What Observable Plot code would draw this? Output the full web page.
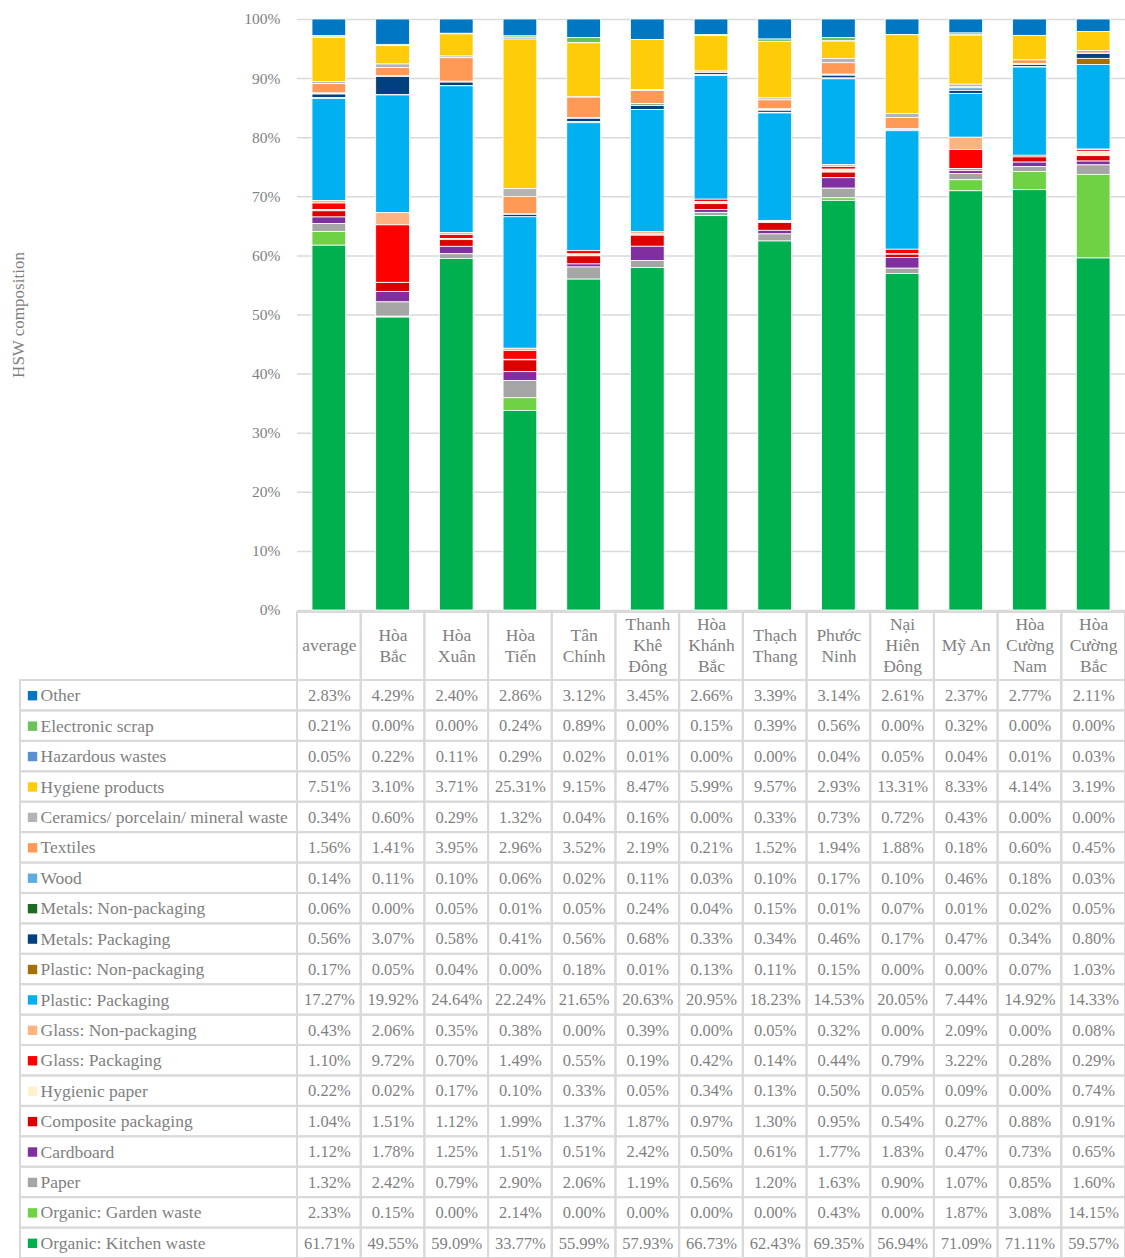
<!DOCTYPE html>
<html><head><meta charset="utf-8">
<script src="https://cdn.jsdelivr.net/npm/d3@7"></script>
<script src="https://cdn.jsdelivr.net/npm/@observablehq/plot@0.6"></script>
<style>
body{margin:0;background:#fff;}
#wrap{width:1125px;}
.row{display:flex;}
svg{overflow:visible;}
</style></head><body>
<div id="wrap"><div id="chart"></div><div id="header"></div><div class="row"><div style="width:20px;flex:none"></div><div id="labels"></div><div id="table"></div></div></div>
<script>
const categories = ["average","Hòa Bắc","Hòa Xuân","Hòa Tiến","Tân Chính","Thanh Khê Đông","Hòa Khánh Bắc","Thạch Thang","Phước Ninh","Nại Hiên Đông","Mỹ An","Hòa Cường Nam","Hòa Cường Bắc"];
const tickLabels = ["average","Hòa\nBắc","Hòa\nXuân","Hòa\nTiến","Tân\nChính","Thanh\nKhê\nĐông","Hòa\nKhánh\nBắc","Thạch\nThang","Phước\nNinh","Nại\nHiên\nĐông","Mỹ An","Hòa\nCường\nNam","Hòa\nCường\nBắc"];

// table order (top row first)
const seriesNames = ["Other","Electronic scrap","Hazardous wastes","Hygiene products","Ceramics/ porcelain/ mineral waste","Textiles","Wood","Metals: Non-packaging","Metals: Packaging","Plastic: Non-packaging","Plastic: Packaging","Glass: Non-packaging","Glass: Packaging","Hygienic paper","Composite packaging","Cardboard","Paper","Organic: Garden waste","Organic: Kitchen waste"];
const seriesColors = ["#0077C2","#6CC15A","#5A8FD6","#FFCC0A","#B4B4B4","#FF9955","#5FADE0","#1F6B26","#00407E","#A66F00","#00B0F0","#FFB380","#FF0000","#FFF1CC","#DC0000","#7F2FA0","#A5A5A5","#6FD144","#00B04F"];

const other          = [2.83,4.29,2.40,2.86,3.12,3.45,2.66,3.39,3.14,2.61,2.37,2.77,2.11];
const electronic     = [0.21,0.00,0.00,0.24,0.89,0.00,0.15,0.39,0.56,0.00,0.32,0.00,0.00];
const hazardous      = [0.05,0.22,0.11,0.29,0.02,0.01,0.00,0.00,0.04,0.05,0.04,0.01,0.03];
const hygieneProd    = [7.51,3.10,3.71,25.31,9.15,8.47,5.99,9.57,2.93,13.31,8.33,4.14,3.19];
const ceramics       = [0.34,0.60,0.29,1.32,0.04,0.16,0.00,0.33,0.73,0.72,0.43,0.00,0.00];
const textiles       = [1.56,1.41,3.95,2.96,3.52,2.19,0.21,1.52,1.94,1.88,0.18,0.60,0.45];
const wood           = [0.14,0.11,0.10,0.06,0.02,0.11,0.03,0.10,0.17,0.10,0.46,0.18,0.03];
const metalsNonPack  = [0.06,0.00,0.05,0.01,0.05,0.24,0.04,0.15,0.01,0.07,0.01,0.02,0.05];
const metalsPack     = [0.56,3.07,0.58,0.41,0.56,0.68,0.33,0.34,0.46,0.17,0.47,0.34,0.80];
const plasticNonPack = [0.17,0.05,0.04,0.00,0.18,0.01,0.13,0.11,0.15,0.00,0.00,0.07,1.03];
const plasticPack    = [17.27,19.92,24.64,22.24,21.65,20.63,20.95,18.23,14.53,20.05,7.44,14.92,14.33];
const glassNonPack   = [0.43,2.06,0.35,0.38,0.00,0.39,0.00,0.05,0.32,0.00,2.09,0.00,0.08];
const glassPack      = [1.10,9.72,0.70,1.49,0.55,0.19,0.42,0.14,0.44,0.79,3.22,0.28,0.29];
const hygienicPaper  = [0.22,0.02,0.17,0.10,0.33,0.05,0.34,0.13,0.50,0.05,0.09,0.00,0.74];
const composite      = [1.04,1.51,1.12,1.99,1.37,1.87,0.97,1.30,0.95,0.54,0.27,0.88,0.91];
const cardboard      = [1.12,1.78,1.25,1.51,0.51,2.42,0.50,0.61,1.77,1.83,0.47,0.73,0.65];
const paper          = [1.32,2.42,0.79,2.90,2.06,1.19,0.56,1.20,1.63,0.90,1.07,0.85,1.60];
const garden         = [2.33,0.15,0.00,2.14,0.00,0.00,0.00,0.00,0.43,0.00,1.87,3.08,14.15];
const kitchen        = [61.71,49.55,59.09,33.77,55.99,57.93,66.73,62.43,69.35,56.94,71.09,71.11,59.57];

const seriesValues = [other,electronic,hazardous,hygieneProd,ceramics,textiles,wood,metalsNonPack,metalsPack,plasticNonPack,plasticPack,glassNonPack,glassPack,hygienicPaper,composite,cardboard,paper,garden,kitchen];

const data = seriesNames.flatMap((s, i) => categories.map((c, j) => ({series: s, cat: c, value: seriesValues[i][j]})));
const stackOrder = seriesNames.slice().reverse();

const font = "'Liberation Serif','Times New Roman',serif";
const gray = "#7f7f7f";
const border = "#d9d9d9";
const fsNum = 16.5;
const fsText = 17.5;
const color = {domain: seriesNames, range: seriesColors};
const pct = d3.format(".0%");

const chart = Plot.plot({
  width: 1125, height: 612,
  marginLeft: 297, marginRight: 0, marginTop: 19, marginBottom: 2,
  style: {fontFamily: font, fontSize: "15.5px", color: gray, background: "white"},
  x: {domain: categories, padding: 0, round: false, axis: null},
  y: {domain: [0, 1]},
  color,
  marks: [
    Plot.gridY({ticks: 10, stroke: border, strokeOpacity: 1, strokeWidth: 1.5}),
    Plot.axisY({ticks: 10, tickFormat: pct, tickSize: 0, tickPadding: 17, fontSize: 15.5, label: null}),
    Plot.axisY({ticks: [], tickSize: 0, fontSize: 17,
      label: "HSW composition", labelAnchor: "center", labelOffset: 286, labelArrow: "none"}),
    Plot.barY(data, {x: "cat", y: "value", fill: "series", order: stackOrder, offset: "normalize",
      stroke: "white", strokeWidth: 0.8, insetLeft: 15, insetRight: 15})
  ]
});
document.getElementById("chart").append(chart);

const header = Plot.plot({
  width: 1125, height: 68,
  marginLeft: 297, marginRight: 0, marginTop: 0, marginBottom: 0,
  style: {fontFamily: font, fontSize: fsText + "px", color: gray, background: "white"},
  x: {domain: categories, padding: 0, round: false, axis: null},
  marks: [
    Plot.cell(categories, {x: d => d, fill: "none", stroke: border, strokeWidth: 2}),
    Plot.text(categories, {x: d => d, text: (d, i) => tickLabels[i], frameAnchor: "middle",
      lineHeight: 1.2, dy: -2, fontSize: fsText, fill: gray})
  ]
});
document.getElementById("header").append(header);

const labels = Plot.plot({
  width: 277, height: 578,
  marginLeft: 0, marginRight: 0, marginTop: 0, marginBottom: 0,
  style: {fontFamily: font, fontSize: fsText + "px", color: gray, background: "white"},
  y: {domain: seriesNames, padding: 0, round: false, axis: null},
  color,
  marks: [
    Plot.cell(seriesNames, {y: d => d, fill: "none", stroke: border, strokeWidth: 2}),
    Plot.dot(seriesNames, {y: d => d, frameAnchor: "left", dx: 12, symbol: "square", r: 5.3, fill: d => d}),
    Plot.text(seriesNames, {y: d => d, text: d => d, frameAnchor: "left", dx: 20, textAnchor: "start",
      fontSize: fsText, fill: gray})
  ]
});
document.getElementById("labels").append(labels);

const table = Plot.plot({
  width: 828, height: 578,
  marginLeft: 0, marginRight: 0, marginTop: 0, marginBottom: 0,
  style: {fontFamily: font, fontSize: fsNum + "px", color: gray, background: "white"},
  x: {domain: categories, padding: 0, round: false, axis: null},
  y: {domain: seriesNames, padding: 0, round: false, axis: null},
  marks: [
    Plot.cell(data, {x: "cat", y: "series", fill: "none", stroke: border, strokeWidth: 2}),
    Plot.text(data, {x: "cat", y: "series", text: d => d.value.toFixed(2) + "%", fontSize: fsNum, fill: gray})
  ]
});
document.getElementById("table").append(table);
</script>
</body></html>
